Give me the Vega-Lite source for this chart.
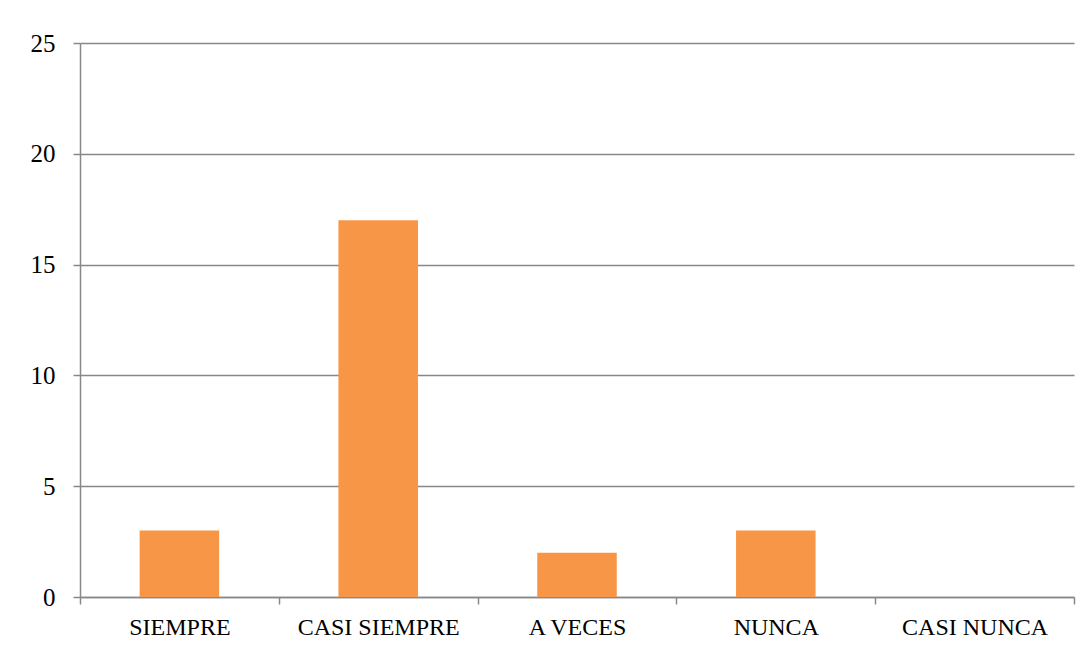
{
  "$schema": "https://vega.github.io/schema/vega-lite/v6.json",
  "width": 994,
  "height": 554,
  "autosize": {"type": "none"},
  "padding": {"left": 80, "top": 43, "right": 16, "bottom": 54},
  "background": "white",
  "config": {"view": {"stroke": null}},
  "data": {"values": [
    {"categoria": "SIEMPRE", "valor": 3},
    {"categoria": "CASI SIEMPRE", "valor": 17},
    {"categoria": "A VECES", "valor": 2},
    {"categoria": "NUNCA", "valor": 3},
    {"categoria": "CASI NUNCA", "valor": 0}
  ]},
  "mark": {"type": "bar", "color": "#F79646", "width": {"band": 0.4}},
  "encoding": {
    "x": {
      "field": "categoria", "type": "nominal", "sort": null,
      "scale": {"paddingInner": 0, "paddingOuter": 0},
      "axis": {
        "title": null, "labelAngle": 0, "tickBand": "extent",
        "domainColor": "#888", "domainWidth": 1.5,
        "tickColor": "#888", "tickWidth": 1.5, "tickSize": 7,
        "labelFont": "Liberation Serif", "labelFontSize": 24, "labelColor": "black",
        "labelPadding": 11
      }
    },
    "y": {
      "field": "valor", "type": "quantitative",
      "scale": {"domain": [0, 25]},
      "axis": {
        "title": null, "values": [0, 5, 10, 15, 20, 25],
        "grid": true, "gridColor": "#888", "gridWidth": 1.5,
        "domainColor": "#888", "domainWidth": 1.5,
        "tickColor": "#888", "tickWidth": 1.5, "tickSize": 7,
        "labelFont": "Liberation Serif", "labelFontSize": 25, "labelColor": "black",
        "labelPadding": 18
      }
    }
  }
}
